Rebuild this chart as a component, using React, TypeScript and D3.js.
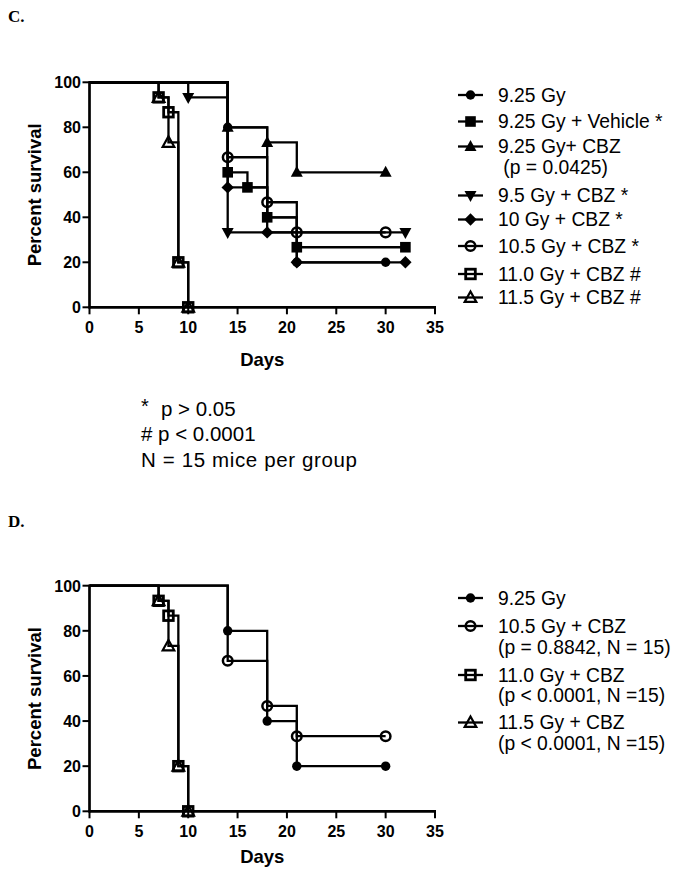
import React from 'react';
import * as d3 from 'd3';

const xTicks = [0, 5, 10, 15, 20, 25, 30, 35];
const yTicks = [0, 20, 40, 60, 80, 100];

// Panel C data (days, percent survival)
const c925Days = [0, 14, 18, 21, 30];
const c925Surv = [100, 80, 40, 20, 20];
const cVehDays = [0, 14, 16, 18, 21, 32];
const cVehSurv = [100, 60, 53.3, 40, 26.7, 26.7];
const cCbzDays = [0, 14, 18, 21, 30];
const cCbzSurv = [100, 80, 73.3, 60, 60];
const c95Days = [0, 10, 14, 32];
const c95Surv = [100, 93.3, 33.3, 33.3];
const c10Days = [0, 14, 18, 21, 32];
const c10Surv = [100, 53.3, 33.3, 20, 20];
const c105Days = [0, 14, 18, 21, 30];
const c105Surv = [100, 66.7, 46.7, 33.3, 33.3];
const c110Days = [0, 7, 8, 9, 10];
const c110Surv = [100, 93.3, 86.7, 20, 0];
const c115Days = [0, 7, 8, 9, 10];
const c115Surv = [100, 93.3, 73.3, 20, 0];

// Panel D data
const d925Days = [0, 14, 18, 21, 30];
const d925Surv = [100, 80, 40, 20, 20];
const d105Days = [0, 14, 18, 21, 30];
const d105Surv = [100, 66.7, 46.7, 33.3, 33.3];
const d110Days = [0, 7, 8, 9, 10];
const d110Surv = [100, 93.3, 86.7, 20, 0];
const d115Days = [0, 7, 8, 9, 10];
const d115Surv = [100, 93.3, 73.3, 20, 0];

const cLegend = [
  ['9.25 Gy'],
  ['9.25 Gy + Vehicle *'],
  ['9.25 Gy+ CBZ', ' (p = 0.0425)'],
  ['9.5 Gy + CBZ *'],
  ['10 Gy + CBZ *'],
  ['10.5 Gy + CBZ *'],
  ['11.0 Gy + CBZ #'],
  ['11.5 Gy + CBZ #'],
];
const dLegend = [
  ['9.25 Gy'],
  ['10.5 Gy + CBZ', '(p = 0.8842, N = 15)'],
  ['11.0 Gy + CBZ', '(p < 0.0001, N =15)'],
  ['11.5 Gy + CBZ', '(p < 0.0001, N =15)'],
];
const footnotes = ['p > 0.05', '# p < 0.0001', 'N = 15 mice per group'];

type Shape = 'circle' | 'square' | 'triUp' | 'triDown' | 'diamond' | 'openCircle' | 'openSquare' | 'openTri';

function Marker({ shape, x, y }: { shape: Shape; x: number; y: number }) {
  const t = `translate(${x},${y})`;
  switch (shape) {
    case 'circle':
      return <circle transform={t} r={4.7} fill="#000" />;
    case 'square':
      return <rect transform={t} x={-5.3} y={-5.3} width={10.6} height={10.6} fill="#000" />;
    case 'triUp':
      return <path transform={t} d="M0,-6.5L6,4.5L-6,4.5Z" fill="#000" />;
    case 'triDown':
      return <path transform={t} d="M0,6.5L6,-4.5L-6,-4.5Z" fill="#000" />;
    case 'diamond':
      return <path transform={t} d="M0,-6.2L6.2,0L0,6.2L-6.2,0Z" fill="#000" />;
    case 'openCircle':
      return <circle transform={t} r={4.8} fill="none" stroke="#000" strokeWidth={2.5} />;
    case 'openSquare':
      return <rect transform={t} x={-4.8} y={-4.8} width={9.6} height={9.6} fill="none" stroke="#000" strokeWidth={2.8} />;
    case 'openTri':
      return <path transform={t} d="M0,-6L5.8,4.4L-5.8,4.4Z" fill="none" stroke="#000" strokeWidth={2.2} />;
  }
  return null;
}

type Series = { days: number[]; surv: number[]; shape: Shape };

const FONT = 'Arial, "Liberation Sans", Helvetica, sans-serif';

function Panel({
  y0,
  y100,
  series,
  legend,
  legendShapes,
  legendRows,
  xLabelY,
  daysY,
}: {
  y0: number;
  y100: number;
  series: Series[];
  legend: string[][];
  legendShapes: Shape[];
  legendRows: number[][];
  xLabelY: number;
  daysY: number;
}) {
  const x = d3.scaleLinear().domain([0, 35]).range([89.5, 435]);
  const y = d3.scaleLinear().domain([0, 100]).range([y0, y100]);
  const line = d3
    .line<[number, number]>()
    .x((d) => x(d[0]))
    .y((d) => y(d[1]))
    .curve(d3.curveStepAfter);
  const midY = (y0 + y100) / 2;
  return (
    <g>
      <line x1={x(0)} x2={x(0)} y1={y(0) + 1} y2={y(100) - 1} stroke="#000" strokeWidth={2.7} />
      <line x1={x(0) - 1} x2={x(35) + 1} y1={y(0)} y2={y(0)} stroke="#000" strokeWidth={2.7} />
      {yTicks.map((t) => (
        <g key={'y' + t}>
          <line x1={x(0) - 7} x2={x(0)} y1={y(t)} y2={y(t)} stroke="#000" strokeWidth={2} />
          <text
            x={x(0) - 8.5}
            y={y(t) + 5.8}
            textAnchor="end"
            fontFamily={FONT}
            fontWeight="bold"
            fontSize={16}
          >
            {t}
          </text>
        </g>
      ))}
      {xTicks.map((t) => (
        <g key={'x' + t}>
          <line x1={x(t)} x2={x(t)} y1={y(0)} y2={y(0) + 7} stroke="#000" strokeWidth={2} />
          <text x={x(t)} y={xLabelY} textAnchor="middle" fontFamily={FONT} fontWeight="bold" fontSize={16}>
            {t}
          </text>
        </g>
      ))}
      <text x={x(17.5)} y={daysY} textAnchor="middle" fontFamily={FONT} fontWeight="bold" fontSize={18.5}>
        Days
      </text>
      <text
        transform={`translate(41,${midY}) rotate(-90)`}
        textAnchor="middle"
        fontFamily={FONT}
        fontWeight="bold"
        fontSize={18.5}
      >
        Percent survival
      </text>
      {[...series].reverse().map((s, i) => {
        const pts = s.days.map((d, j) => [d, s.surv[j]] as [number, number]);
        return (
          <g key={'s' + i}>
            <path d={line(pts) || ''} fill="none" stroke="#000" strokeWidth={2.3} />
            {pts.slice(1).map((p, j) => (
              <Marker key={j} shape={s.shape} x={x(p[0])} y={y(p[1])} />
            ))}
          </g>
        );
      })}
      {legend.map((lines, i) => (
        <g key={'l' + i}>
          <line x1={458} x2={483} y1={legendRows[i][0]} y2={legendRows[i][0]} stroke="#000" strokeWidth={2.3} />
          <Marker shape={legendShapes[i]} x={470.5} y={legendRows[i][0]} />
          {lines.map((txt, k) => (
            <text
              key={k}
              x={498}
              y={legendRows[i][k] + 6.8}
              fontFamily={FONT}
              fontSize={19.3}
              style={{ whiteSpace: 'pre' }}
            >
              {txt}
            </text>
          ))}
        </g>
      ))}
    </g>
  );
}

export default function App() {
  const cSeries: Series[] = [
    { days: c925Days, surv: c925Surv, shape: 'circle' },
    { days: cVehDays, surv: cVehSurv, shape: 'square' },
    { days: cCbzDays, surv: cCbzSurv, shape: 'triUp' },
    { days: c95Days, surv: c95Surv, shape: 'triDown' },
    { days: c10Days, surv: c10Surv, shape: 'diamond' },
    { days: c105Days, surv: c105Surv, shape: 'openCircle' },
    { days: c110Days, surv: c110Surv, shape: 'openSquare' },
    { days: c115Days, surv: c115Surv, shape: 'openTri' },
  ];
  const dSeries: Series[] = [
    { days: d925Days, surv: d925Surv, shape: 'circle' },
    { days: d105Days, surv: d105Surv, shape: 'openCircle' },
    { days: d110Days, surv: d110Surv, shape: 'openSquare' },
    { days: d115Days, surv: d115Surv, shape: 'openTri' },
  ];
  return (
    <svg
      width={676}
      height={870}
      style={{ position: 'absolute', left: 0, top: 0, background: '#fff' }}
    >
      <rect width={676} height={870} fill="#fff" />
      <text x={8} y={22} fontFamily='"Liberation Serif", "Times New Roman", serif' fontWeight="bold" fontSize={17}>
        C.
      </text>
      <text x={8} y={527} fontFamily='"Liberation Serif", "Times New Roman", serif' fontWeight="bold" fontSize={17}>
        D.
      </text>
      <Panel
        y0={307.3}
        y100={82.3}
        series={cSeries}
        legend={cLegend}
        legendShapes={cSeries.map((s) => s.shape)}
        legendRows={[[95], [121.5], [146.5, 167], [195.5], [219.5], [246], [274], [297.5]]}
        xLabelY={333}
        daysY={366}
      />
      <Panel
        y0={811.3}
        y100={585.7}
        series={dSeries}
        legend={dLegend}
        legendShapes={dSeries.map((s) => s.shape)}
        legendRows={[[598], [626, 647], [675, 695.5], [722.5, 743.5]]}
        xLabelY={837}
        daysY={863}
      />
      <text x={141} y={413} fontFamily={FONT} fontSize={20}>*</text>
      <text x={161} y={416} fontFamily={FONT} fontSize={20.5}>{footnotes[0]}</text>
      <text x={141} y={440.5} fontFamily={FONT} fontSize={20.5}>{footnotes[1]}</text>
      <text x={141} y={467} fontFamily={FONT} fontSize={20.5} textLength={216} lengthAdjust="spacing">
        {footnotes[2]}
      </text>
    </svg>
  );
}
